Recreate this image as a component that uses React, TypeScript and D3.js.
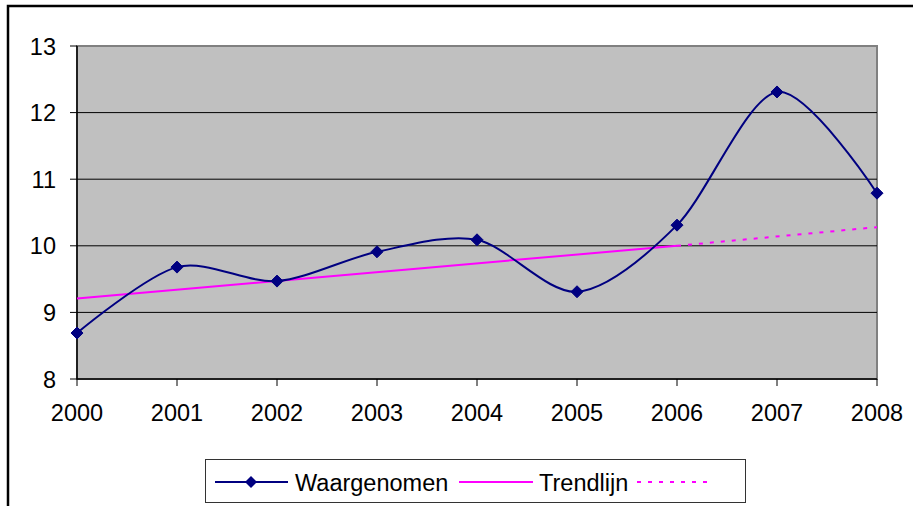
import React from "react";
import * as d3 from "d3";

const years = [2000, 2001, 2002, 2003, 2004, 2005, 2006, 2007, 2008];
const observed = [8.69, 9.68, 9.47, 9.91, 10.09, 9.31, 10.31, 12.31, 10.79];
const trendYears = [2000, 2006];
const trendValues = [9.21, 10.0];
const forecastYears = [2006, 2008];
const forecastValues = [10.0, 10.28];
const yTicks = [8, 9, 10, 11, 12, 13];
const legendLabels = ["Waargenomen", "Trendlijn"];

const W = 913;
const H = 506;
const plot = { left: 77, right: 877, top: 46, bottom: 379 };
const FONT = "'Liberation Sans', Arial, sans-serif";
const NAVY = "#000080";
const PINK = "#FF00FF";
const FS = 23.5;

export default function App() {
  const x = d3.scaleLinear().domain([2000, 2008]).range([plot.left, plot.right]);
  const y = d3.scaleLinear().domain([8, 13]).range([plot.bottom, plot.top]);

  const obsPts: [number, number][] = years.map((yr, i) => [yr, observed[i]]);
  const smooth = d3
    .line<[number, number]>()
    .x((d) => x(d[0]))
    .y((d) => y(d[1]))
    .curve(d3.curveCardinal.tension(0.1));
  const straight = d3
    .line<[number, number]>()
    .x((d) => x(d[0]))
    .y((d) => y(d[1]));

  const trendPts: [number, number][] = trendYears.map((yr, i) => [yr, trendValues[i]]);
  const fcPts: [number, number][] = forecastYears.map((yr, i) => [yr, forecastValues[i]]);

  const diamond = (cx: number, cy: number, r: number) =>
    `M${cx},${cy - r}L${cx + r},${cy}L${cx},${cy + r}L${cx - r},${cy}Z`;

  const legY = 482;
  return (
    <svg
      width={W}
      height={H}
      style={{ position: "absolute", left: 0, top: 0, background: "#fff" }}
      fontFamily={FONT}
    >
      {/* outer chart frame */}
      <rect x={8} y={6} width={W + 20} height={H + 20} fill="#fff" stroke="#000" strokeWidth={2.5} />

      {/* plot area */}
      <rect
        x={plot.left}
        y={plot.top}
        width={plot.right - plot.left}
        height={plot.bottom - plot.top}
        fill="#C0C0C0"
        stroke="#808080"
        strokeWidth={2}
      />

      {/* gridlines */}
      {yTicks.slice(1, -1).map((t) => (
        <line key={t} x1={plot.left} x2={plot.right} y1={y(t)} y2={y(t)} stroke="#000" strokeWidth={1} />
      ))}

      {/* axes */}
      <line x1={plot.left} x2={plot.left} y1={plot.top} y2={plot.bottom} stroke="#000" strokeWidth={1.5} />
      <line x1={plot.left} x2={plot.right} y1={plot.bottom} y2={plot.bottom} stroke="#000" strokeWidth={1.5} />

      {yTicks.map((t) => (
        <g key={t}>
          <line x1={plot.left - 7} x2={plot.left} y1={y(t)} y2={y(t)} stroke="#000" strokeWidth={1} />
          <text x={56} y={y(t) + 8.5} textAnchor="end" fontSize={FS} fill="#000">
            {t}
          </text>
        </g>
      ))}
      {years.map((yr) => (
        <g key={yr}>
          <line x1={x(yr)} x2={x(yr)} y1={plot.bottom} y2={plot.bottom + 7} stroke="#000" strokeWidth={1} />
          <text x={x(yr)} y={421} textAnchor="middle" fontSize={FS} fill="#000">
            {yr}
          </text>
        </g>
      ))}

      {/* trend lines */}
      <path d={straight(trendPts) || ""} fill="none" stroke={PINK} strokeWidth={2} />
      <path d={straight(fcPts) || ""} fill="none" stroke={PINK} strokeWidth={2} strokeDasharray="4,7" />

      {/* observed */}
      <path d={smooth(obsPts) || ""} fill="none" stroke={NAVY} strokeWidth={2} />
      {obsPts.map((d, i) => (
        <path key={i} d={diamond(x(d[0]), y(d[1]), 6)} fill={NAVY} stroke={NAVY} strokeWidth={1} />
      ))}

      {/* legend */}
      <rect x={205.5} y={459.5} width={540} height={43} fill="#fff" stroke="#333" strokeWidth={1} />
      <line x1={215} x2={288} y1={legY} y2={legY} stroke={NAVY} strokeWidth={2} />
      <path d={diamond(251, legY, 6)} fill={NAVY} />
      <text x={295} y={legY + 8.5} fontSize={FS} fill="#000">
        {legendLabels[0]}
      </text>
      <line x1={459} x2={533} y1={legY} y2={legY} stroke={PINK} strokeWidth={2} />
      <text x={539} y={legY + 8.5} fontSize={FS} fill="#000">
        {legendLabels[1]}
      </text>
      <line x1={637} x2={710} y1={legY} y2={legY} stroke={PINK} strokeWidth={2} strokeDasharray="4,7" />
    </svg>
  );
}
